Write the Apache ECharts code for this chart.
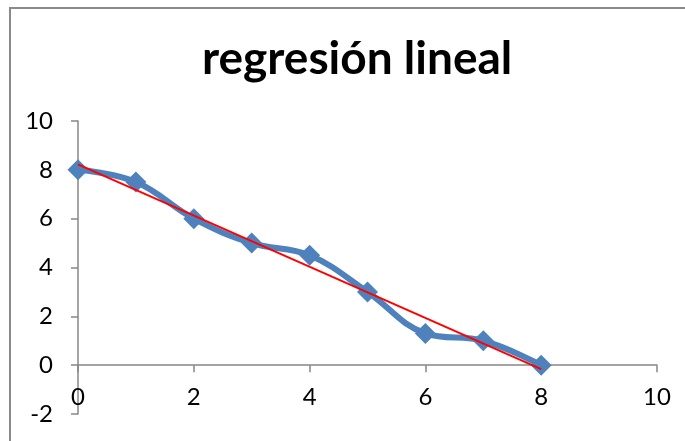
<!DOCTYPE html>
<html>
<head>
<meta charset="utf-8">
<style>
  html, body { margin: 0; padding: 0; background: #fff; }
  #chart { width: 685px; height: 441px; }
</style>
<script src="https://cdn.jsdelivr.net/npm/echarts@6/dist/echarts.min.js"></script>
</head>
<body>
<div id="chart"></div>
<script>
// Observed points
const xValues = [0, 1, 2, 3, 4, 5, 6, 7, 8];
const yValues = [8, 7.5, 6, 5, 4.5, 3, 1.3, 1, 0];

// Axis settings
const xTicks = [0, 2, 4, 6, 8, 10];
const yTicks = [-2, 0, 2, 4, 6, 8, 10];
const titleText = 'regresión lineal';

// Least-squares fit of y on x
function linearFit(xs, ys) {
  const n = xs.length;
  const mx = xs.reduce((a, b) => a + b, 0) / n;
  const my = ys.reduce((a, b) => a + b, 0) / n;
  let sxy = 0, sxx = 0;
  for (let i = 0; i < n; i++) {
    sxy += (xs[i] - mx) * (ys[i] - my);
    sxx += (xs[i] - mx) * (xs[i] - mx);
  }
  const slope = sxy / sxx;
  return { slope, intercept: my - slope * mx };
}
const fit = linearFit(xValues, yValues);
const xFirst = Math.min(...xValues), xLast = Math.max(...xValues);
const trendPoints = [
  [xFirst, fit.intercept + fit.slope * xFirst],
  [xLast, fit.intercept + fit.slope * xLast]
];
const points = xValues.map((x, i) => [x, yValues[i]]);

const axisGray = '#878787';
const font = 'Lato, "Open Sans", sans-serif';

const chart = echarts.init(document.getElementById('chart'), null, { renderer: 'canvas' });
chart.setOption({
  animation: false,
  backgroundColor: '#fff',
  title: {
    text: titleText,
    left: 197,
    top: 31,
    textStyle: { fontFamily: font, fontWeight: 'bold', fontSize: 46, color: '#000' }
  },
  graphic: [{
    type: 'rect',
    shape: { x: 10, y: 8, width: 700, height: 500 },
    style: { fill: 'none', stroke: '#8a8a8a', lineWidth: 2 },
    silent: true,
    z: -1
  }],
  grid: { left: 78, right: 28, top: 121, bottom: 27, containLabel: false, outerBoundsMode: 'none' },
  xAxis: {
    type: 'value',
    min: xTicks[0], max: xTicks[xTicks.length - 1], interval: 2,
    axisLine: { onZero: true, lineStyle: { color: axisGray, width: 1.5 } },
    axisTick: { show: true, length: 7, lineStyle: { color: axisGray, width: 1.5 } },
    axisLabel: { margin: -29, fontFamily: font, fontSize: 24, color: '#000' },
    splitLine: { show: false }
  },
  yAxis: {
    type: 'value',
    min: yTicks[0], max: yTicks[yTicks.length - 1], interval: 2,
    axisLine: { show: true, onZero: false, lineStyle: { color: axisGray, width: 1.5 } },
    axisTick: { show: true, length: 7, lineStyle: { color: axisGray, width: 1.5 } },
    axisLabel: { margin: 25, fontFamily: font, fontSize: 24, color: '#000' },
    splitLine: { show: false }
  },
  series: [
    {
      type: 'line',
      data: points,
      smooth: 0.4,
      symbol: 'diamond',
      symbolSize: 21,
      lineStyle: { color: '#4F81BD', width: 6 },
      itemStyle: { color: '#4F81BD' },
      z: 2
    },
    {
      type: 'line',
      data: trendPoints,
      symbol: 'none',
      lineStyle: { color: '#FF0000', width: 2 },
      z: 3
    }
  ]
});
</script>
</body>
</html>
